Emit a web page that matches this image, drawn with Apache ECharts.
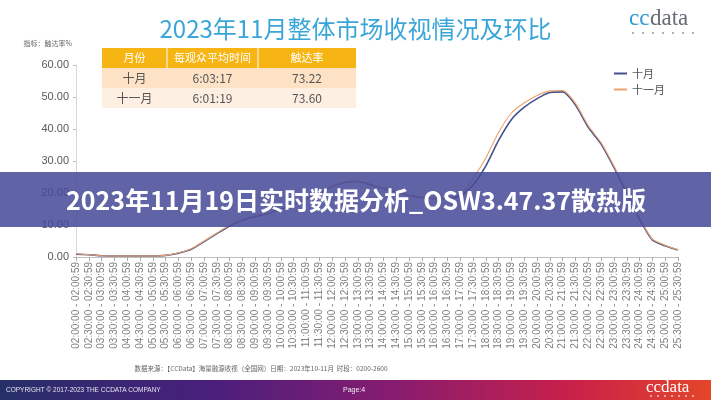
<!DOCTYPE html>
<html>
<head>
<meta charset="utf-8">
<script src="https://cdn.jsdelivr.net/npm/echarts@6/dist/echarts.min.js"></script>
<style>
  html, body { margin: 0; padding: 0; background: #fff; }
  #main { width: 711px; height: 400px; }
</style>
</head>
<body>
<div id="main"></div>
<script>
// 时段：02:00 - 25:30，每半小时一个
var slots = ['02:00', '02:30', '03:00', '03:30', '04:00', '04:30', '05:00', '05:30',
  '06:00', '06:30', '07:00', '07:30', '08:00', '08:30', '09:00', '09:30',
  '10:00', '10:30', '11:00', '11:30', '12:00', '12:30', '13:00', '13:30',
  '14:00', '14:30', '15:00', '15:30', '16:00', '16:30', '17:00', '17:30',
  '18:00', '18:30', '19:00', '19:30', '20:00', '20:30', '21:00', '21:30',
  '22:00', '22:30', '23:00', '23:30', '24:00', '24:30', '25:00', '25:30'];
var categories = slots.map(function (s) { return s + ':00 - ' + s + ':59'; });

// 触达率%
var octData = [0.9, 0.7, 0.4, 0.3, 0.3, 0.3, 0.3, 0.5, 1.2, 2.4, 4.8, 7.3,
  9.7, 11.5, 12.7, 13.6, 15.0, 16.6, 18.2, 19.8, 22.0, 23.3, 23.6, 22.6,
  21.5, 20.3, 19.2, 18.6, 18.3, 18.3, 19.0, 22.5, 28.5, 36.5, 43.0, 46.8,
  49.5, 51.4, 51.6, 47.5, 40.5, 35.3, 28.0, 20.0, 11.8, 5.3, 3.5, 2.2];
var novData = [1.0, 0.7, 0.4, 0.3, 0.3, 0.3, 0.3, 0.5, 1.3, 2.6, 5.0, 7.5,
  9.9, 11.6, 12.8, 13.7, 15.1, 16.7, 18.3, 19.9, 22.1, 23.4, 23.7, 22.7,
  21.6, 20.4, 19.3, 18.7, 18.4, 18.5, 19.5, 24.5, 31.0, 39.0, 45.0, 48.2,
  50.5, 51.9, 52.0, 48.0, 41.0, 35.7, 28.4, 20.4, 12.2, 5.6, 3.7, 2.3];

var yTicks = { min: 0, max: 60, interval: 10 };

// 上方小表格
var tableHead = ['月份', '每观众平均时间', '触达率'];
var tableRows = [['十月', '6:03:17', '73.22'], ['十一月', '6:01:19', '73.60']];

var bannerText = '2023年11月19日实时数据分析_OSW3.47.37散热版';
var sourceText = '数据来源：【CCData】海量融源收视（全国网）日期：2023年10-11月  时段：0200-2600';

var chart = echarts.init(document.getElementById('main'));

// 表格图形
var colX = [102, 167, 258, 356];
var rowY = [48, 68, 88, 108];
var rowColors = ['#f7b514', '#fde2c6', '#fdf0e2'];
var tableGraphics = [];
for (var r = 0; r < 3; r++) {
  tableGraphics.push({
    type: 'rect', shape: { x: colX[0], y: rowY[r], width: colX[3] - colX[0], height: rowY[r + 1] - rowY[r] },
    style: { fill: rowColors[r] }, silent: true
  });
  for (var c = 0; c < 3; c++) {
    var txt = r === 0 ? tableHead[c] : tableRows[r - 1][c];
    tableGraphics.push({
      type: 'text',
      x: (colX[c] + colX[c + 1]) / 2, y: (rowY[r] + rowY[r + 1]) / 2,
      style: {
        text: txt, align: 'center', verticalAlign: 'middle',
        fill: r === 0 ? '#fff' : '#555',
        fontSize: r === 0 ? 11 : 12,
        fontFamily: 'Noto Sans CJK SC'
      }
    });
  }
}
tableGraphics.push(
  { type: 'line', shape: { x1: colX[1], y1: rowY[0], x2: colX[1], y2: rowY[1] }, style: { stroke: '#fff', lineWidth: 1 } },
  { type: 'line', shape: { x1: colX[2], y1: rowY[0], x2: colX[2], y2: rowY[1] }, style: { stroke: '#fff', lineWidth: 1 } }
);

function dots(x0, y, n, gap, color) {
  var arr = [];
  for (var i = 0; i < n; i++) {
    arr.push({ type: 'circle', shape: { cx: x0 + i * gap, cy: y, r: 0.9 }, style: { fill: color } });
  }
  return arr;
}

var option = {
  animation: false,
  backgroundColor: '#fff',
  textStyle: { fontFamily: 'Liberation Sans, Noto Sans CJK SC' },
  title: {
    text: '2023年11月整体市场收视情况及环比',
    left: 'center', top: 12,
    textStyle: { color: '#3aa6d8', fontSize: 24, fontWeight: 'normal', fontFamily: 'Noto Sans CJK SC' }
  },
  legend: {
    orient: 'vertical', left: 609, top: 63, itemGap: 5,
    itemWidth: 13, itemHeight: 2,
    textStyle: { color: '#555', fontSize: 11, fontFamily: 'Noto Sans CJK SC' },
    data: [
      { name: '十月', icon: 'rect', itemStyle: { color: '#44518f' } },
      { name: '十一月', icon: 'rect', itemStyle: { color: '#eda36c' } }
    ]
  },
  grid: { left: 76, top: 65, width: 602, height: 192 },
  xAxis: {
    type: 'category', data: categories, boundaryGap: false,
    axisLine: { lineStyle: { color: '#bfbfbf' } },
    axisTick: { alignWithLabel: true, length: 4, lineStyle: { color: '#aaa' } },
    axisLabel: { rotate: 90, interval: 0, fontSize: 10, color: '#808080', margin: 5 }
  },
  yAxis: {
    type: 'value', min: yTicks.min, max: yTicks.max, interval: yTicks.interval,
    name: '指标：触达率%', nameLocation: 'end', nameGap: 18,
    nameTextStyle: { fontSize: 7, color: '#666', align: 'right', padding: [0, 4, 0, 0], fontFamily: 'Noto Sans CJK SC' },
    splitLine: { show: false },
    axisLine: { show: true, lineStyle: { color: '#d9d9d9' } },
    axisTick: { show: true, length: 3, lineStyle: { color: '#bbb' } },
    axisLabel: {
      fontSize: 11, color: '#595959', margin: 7,
      formatter: function (v) { return v.toFixed(2); }
    }
  },
  series: [
    {
      name: '十月', type: 'line', data: octData, symbol: 'none', smooth: 0.2,
      lineStyle: { color: '#44518f', width: 1.6 }, itemStyle: { color: '#44518f' }, z: 2
    },
    {
      name: '十一月', type: 'line', data: novData, symbol: 'none', smooth: 0.2,
      lineStyle: { color: '#eda36c', width: 1.1 }, itemStyle: { color: '#eda36c' }, z: 3
    }
  ],
  graphic: tableGraphics.concat([
    // 右上角 logo
    { type: 'text', x: 629, y: 7, style: { text: 'cc', fill: '#2c9bd0', fontSize: 23, fontFamily: 'Liberation Serif' } },
    { type: 'text', x: 650, y: 7, style: { text: 'data', fill: '#666c75', fontSize: 23, fontFamily: 'Liberation Serif' } }
  ]).concat(dots(633, 33, 7, 10, '#8a8f98')).concat([
    // 数据来源
    {
      type: 'text', x: 261, y: 369,
      style: { text: sourceText, align: 'center', verticalAlign: 'middle', fill: '#666', fontSize: 6.5, fontFamily: 'Noto Sans CJK SC' }
    },
    // 底部渐变条
    {
      type: 'rect', shape: { x: 0, y: 380, width: 711, height: 20 }, z: 50,
      style: {
        fill: new echarts.graphic.LinearGradient(0, 0, 1, 0, [
          { offset: 0, color: '#262f68' },
          { offset: 0.3, color: '#4a1f7c' },
          { offset: 0.55, color: '#861c70' },
          { offset: 0.8, color: '#c8204a' },
          { offset: 1, color: '#e4462a' }
        ])
      }
    },
    {
      type: 'text', x: 6, y: 390, z: 51,
      style: { text: 'COPYRIGHT © 2017-2023 THE CCDATA COMPANY', verticalAlign: 'middle', fill: '#e8e4f0', fontSize: 6.5, fontFamily: 'Liberation Sans' }
    },
    {
      type: 'text', x: 343, y: 390, z: 51,
      style: { text: 'Page:4', verticalAlign: 'middle', fill: '#eee', fontSize: 7, fontFamily: 'Liberation Sans' }
    },
    { type: 'text', x: 646, y: 379, z: 51, style: { text: 'ccdata', fill: '#fff', fontSize: 17, fontFamily: 'Liberation Serif' } }
  ]).concat(dots(651, 396, 7, 7, '#f4d8d0').map(function (d) { d.z = 51; return d; })).concat([
    // 中间横幅
    {
      type: 'rect', shape: { x: 0, y: 172, width: 711, height: 55 }, z: 60,
      style: { fill: 'rgba(70,75,152,0.86)' }
    },
    {
      type: 'text', x: 356, y: 200, z: 61,
      style: {
        text: bannerText, align: 'center', verticalAlign: 'middle',
        fill: '#fff', fontSize: 25, fontWeight: 'bold', fontFamily: 'Noto Sans CJK SC'
      }
    }
  ])
};

chart.setOption(option);
</script>
</body>
</html>
